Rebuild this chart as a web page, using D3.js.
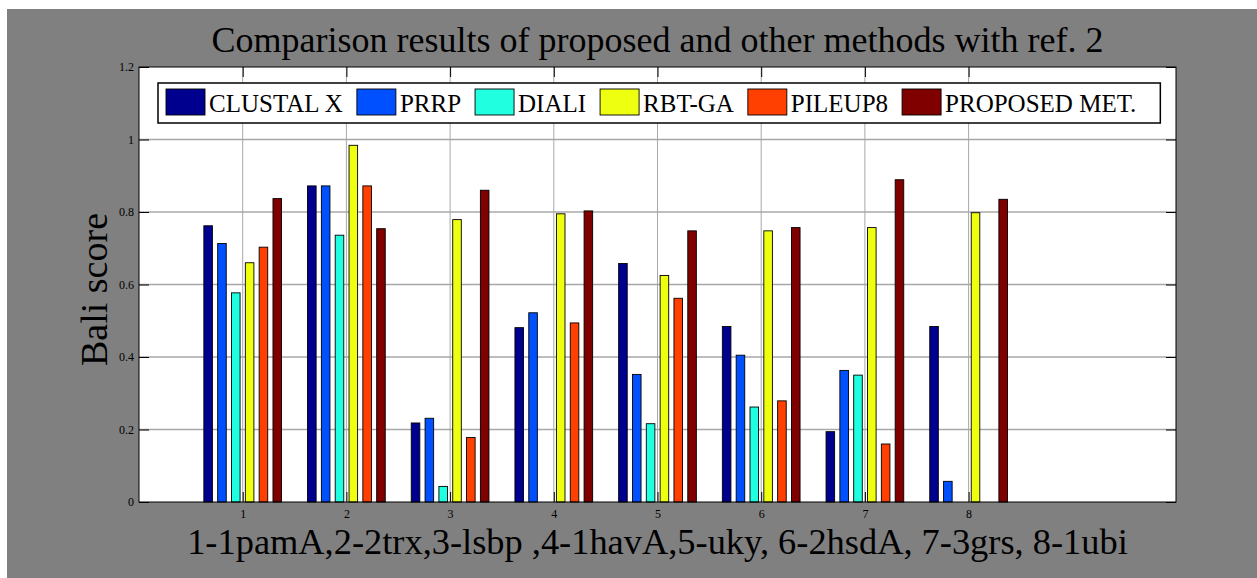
<!DOCTYPE html>
<html>
<head>
<meta charset="utf-8">
<script src="https://cdn.jsdelivr.net/npm/d3@7"></script>
<style>
  html, body { margin: 0; padding: 0; background: #fff; }
  svg { display: block; }
  text { font-family: "Liberation Serif", "Times New Roman", serif; fill: #000; }
</style>
</head>
<body>
<svg id="chart"></svg>
<script>
// Data
const categories = ["1", "2", "3", "4", "5", "6", "7", "8"];
const seriesNames = ["CLUSTAL X", "PRRP", "DIALI", "RBT-GA", "PILEUP8", "PROPOSED MET."];
const seriesColors = ["#00008f", "#0050ff", "#20ffdf", "#efff10", "#ff4000", "#800000"];
const clustalX = [0.762, 0.872, 0.218, 0.481, 0.658, 0.484, 0.194, 0.484];
const prrp = [0.713, 0.872, 0.231, 0.522, 0.352, 0.405, 0.363, 0.057];
const diali = [0.577, 0.736, 0.043, 0, 0.216, 0.262, 0.350, 0];
const rbtGa = [0.660, 0.984, 0.779, 0.795, 0.625, 0.748, 0.757, 0.798];
const pileup8 = [0.703, 0.872, 0.178, 0.494, 0.562, 0.279, 0.160, 0];
const proposed = [0.837, 0.754, 0.860, 0.803, 0.748, 0.757, 0.889, 0.835];
const yTicks = [0, 0.2, 0.4, 0.6, 0.8, 1, 1.2];
const xTicks = [1, 2, 3, 4, 5, 6, 7, 8];

const titleText = "Comparison results of proposed and other methods with ref. 2";
const xLabelText = "1-1pamA,2-2trx,3-lsbp ,4-1havA,5-uky, 6-2hsdA, 7-3grs, 8-1ubi";
const yLabelText = "Bali score";

const series = [clustalX, prrp, diali, rbtGa, pileup8, proposed];

// Layout
const W = 1257, H = 578;
const plot = { left: 139, right: 1176, top: 67, bottom: 502 };

const svg = d3.select("#chart").attr("width", W).attr("height", H);

// Figure background
svg.append("rect").attr("x", 7).attr("y", 9).attr("width", W - 7).attr("height", H - 9).attr("fill", "#808080");
svg.append("rect")
  .attr("x", plot.left).attr("y", plot.top)
  .attr("width", plot.right - plot.left).attr("height", plot.bottom - plot.top)
  .attr("fill", "#fff");

const x = d3.scaleLinear().domain([0, 10]).range([plot.left, plot.right]);
const y = d3.scaleLinear().domain([0, 1.2]).range([plot.bottom, plot.top]);

// Grid
const grid = svg.append("g").attr("class", "grid");
grid.selectAll("line.h")
  .data(yTicks.filter(t => t > 0 && t < 1.2))
  .join("line")
  .attr("x1", plot.left).attr("x2", plot.right)
  .attr("y1", d => y(d)).attr("y2", d => y(d))
  .attr("stroke", "#a8a8a8").attr("stroke-width", 1.3);
grid.selectAll("line.v")
  .data(xTicks)
  .join("line")
  .attr("x1", d => x(d)).attr("x2", d => x(d))
  .attr("y1", plot.top).attr("y2", plot.bottom)
  .attr("stroke", "#a8a8a8").attr("stroke-width", 1);

// Bars
const nSeries = series.length;
const groupWidth = 0.8;
const slot = groupWidth / nSeries;
const barW = slot * 0.62;

const bars = svg.append("g").attr("class", "bars");
series.forEach((vals, j) => {
  bars.append("g")
    .selectAll("rect")
    .data(vals.map((v, i) => ({ i, v })).filter(d => d.v > 0))
    .join("rect")
    .attr("x", d => x(d.i + 1 + (j - (nSeries - 1) / 2) * slot - barW / 2))
    .attr("width", x(barW) - x(0))
    .attr("y", d => y(d.v))
    .attr("height", d => y(0) - y(d.v))
    .attr("fill", seriesColors[j])
    .attr("stroke", "#000")
    .attr("stroke-width", 0.9);
});

// Axes (ticks inward, box on)
const tickLen = 10;
svg.append("g")
  .attr("transform", `translate(${plot.left},0)`)
  .call(d3.axisLeft(y).tickValues(yTicks).tickSize(-tickLen).tickPadding(5).tickFormat(d3.format("~g")))
  .call(g => g.select(".domain").remove())
  .call(g => g.selectAll("text").attr("font-size", 12).attr("font-family", "Liberation Serif").attr("fill", "#000"));
svg.append("g")
  .attr("transform", `translate(${plot.right},0)`)
  .call(d3.axisRight(y).tickValues(yTicks).tickSize(-tickLen).tickFormat(""))
  .call(g => g.select(".domain").remove());
svg.append("g")
  .attr("transform", `translate(0,${plot.bottom})`)
  .call(d3.axisBottom(x).tickValues(xTicks).tickSize(-tickLen).tickPadding(7).tickFormat(d3.format("d")))
  .call(g => g.select(".domain").remove())
  .call(g => g.selectAll("text").attr("font-size", 12).attr("font-family", "Liberation Serif").attr("fill", "#000"));
svg.append("g")
  .attr("transform", `translate(0,${plot.top})`)
  .call(d3.axisTop(x).tickValues(xTicks).tickSize(-tickLen).tickFormat(""))
  .call(g => g.select(".domain").remove());

svg.append("rect")
  .attr("x", plot.left).attr("y", plot.top)
  .attr("width", plot.right - plot.left).attr("height", plot.bottom - plot.top)
  .attr("fill", "none").attr("stroke", "#000").attr("stroke-width", 1);

// Legend
const legend = svg.append("g").attr("class", "legend");
const legBox = legend.append("rect")
  .attr("fill", "#fff").attr("stroke", "#000").attr("stroke-width", 1.5);
const legTop = 83, legH = 40, legLeft = 158;
let cx = legLeft + 8;
seriesNames.forEach((name, j) => {
  legend.append("rect")
    .attr("x", cx).attr("y", legTop + 6)
    .attr("width", 39).attr("height", 26)
    .attr("fill", seriesColors[j]).attr("stroke", "#000").attr("stroke-width", 0.9);
  const t = legend.append("text")
    .attr("x", cx + 43).attr("y", legTop + 29)
    .attr("font-size", 25)
    .text(name);
  cx += 43 + t.node().getComputedTextLength() + 14;
});
legBox.attr("x", legLeft).attr("y", legTop)
  .attr("width", cx - legLeft + 10).attr("height", legH);

// Title and labels
svg.append("text")
  .attr("x", (plot.left + plot.right) / 2).attr("y", 52)
  .attr("text-anchor", "middle").attr("font-size", 36)
  .text(titleText);
svg.append("text")
  .attr("x", (plot.left + plot.right) / 2).attr("y", 554)
  .attr("text-anchor", "middle").attr("font-size", 36.4)
  .text(xLabelText);
svg.append("text")
  .attr("transform", `translate(107,${(plot.top + plot.bottom) / 2 + 5}) rotate(-90)`)
  .attr("text-anchor", "middle").attr("font-size", 38)
  .text(yLabelText);
</script>
</body>
</html>
